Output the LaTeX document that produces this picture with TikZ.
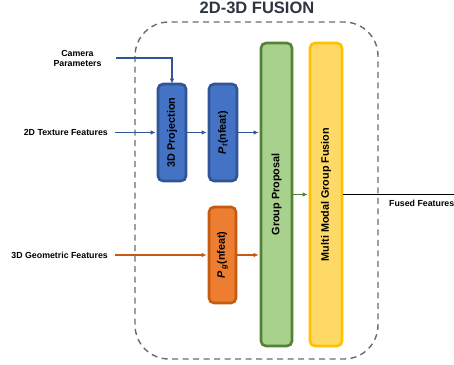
\documentclass[tikz,border=0pt]{standalone}
\usepackage{fontspec}
\setmainfont{Liberation Sans}
\usetikzlibrary{arrows.meta}
\definecolor{bfill}{HTML}{4472C4}
\definecolor{bline}{HTML}{2F5597}
\definecolor{gfill}{HTML}{A9D18E}
\definecolor{gline}{HTML}{538135}
\definecolor{yfill}{HTML}{FFD966}
\definecolor{yline}{HTML}{FFC000}
\definecolor{ofill}{HTML}{ED7D31}
\definecolor{oline}{HTML}{C55A11}
\definecolor{dashgray}{HTML}{6B6B6B}
\definecolor{titlecol}{HTML}{2E3440}
\tikzset{
  blockbox/.style={draw, line width=2.6pt, rounded corners=5pt, inner sep=0pt},
  blocklabel/.style={rotate=90, font=\fontsize{10.8}{12}\selectfont\bfseries, text=black, inner sep=0pt},
  sidelabel/.style={font=\fontsize{8.8}{10.6}\selectfont\bfseries, text=black, inner sep=0pt, align=center},
  flow/.style={line width=1.3pt, -{Latex[length=5pt,width=4.5pt]}},
  plainflow/.style={line width=1.5pt},
  fusionframe/.style={draw=dashgray, line width=1.4pt, dash pattern=on 6pt off 4.5pt, rounded corners=34pt}
}
\begin{document}
\begin{tikzpicture}[x=1pt,y=-1pt]
\useasboundingbox (0,0) rectangle (454,364);
% frame and title
\draw[fusionframe] (135,22) rectangle (378,359);
\node[font=\fontsize{16.5}{18}\selectfont\bfseries, text=titlecol, inner sep=0pt] (title) at (257,8) {2D-3D FUSION};
% blocks
\node[blockbox, fill=bfill, draw=bline, minimum width=28pt, minimum height=97pt] (proj) at (172,132.5) {};
\node[blocklabel] (projl) at (proj.center) {3D Projection};
\node[blockbox, fill=bfill, draw=bline, minimum width=28pt, minimum height=97pt] (pt) at (223,132.5) {};
\node[blocklabel] (ptl) at (pt.center) {{\itshape P}\textsubscript{\itshape t}(nfeat)};
\node[blockbox, fill=ofill, draw=oline, minimum width=27pt, minimum height=96pt] (pg) at (222.5,255) {};
\node[blocklabel] (pgl) at (pg.center) {{\itshape P}\,\textsubscript{\itshape g}(nfeat)};
\node[blockbox, fill=gfill, draw=gline, minimum width=31pt, minimum height=303pt] (gp) at (276.5,194.5) {};
\node[blocklabel] (gpl) at (gp.center) {Group Proposal};
\node[blockbox, fill=yfill, draw=yline, minimum width=32pt, minimum height=303pt] (mm) at (326,194.5) {};
\node[blocklabel] (mml) at (mm.center) {Multi Modal Group Fusion};
% side labels
\node[sidelabel] (caml) at (77.5,58.5) {Camera\\Parameters};
\node[sidelabel, anchor=east] (texl) at (108,132.5) {2D Texture Features};
\node[sidelabel, anchor=east] (geol) at (108,255) {3D Geometric Features};
\node[sidelabel, anchor=west] (fusl) at (389,203) {Fused Features};
\coordinate (cam) at (116,58);
\coordinate (tex) at (115,132.5);
\coordinate (geo) at (115,255);
\coordinate (out) at (454,194.5);
% connectors
\draw[flow, bline] (cam) -| ([yshift=-1pt]proj.north);
\draw[flow, bline] (tex) -- ([xshift=-1pt]proj.west);
\draw[flow, bline] (proj.east) -- ([xshift=-1pt]pt.west);
\draw[flow, bline] (pt.east) -- ([xshift=-1pt]pt.east -| gp.west);
\draw[flow, oline] (geo) -- ([xshift=-1pt]pg.west);
\draw[flow, oline] (pg.east) -- ([xshift=-1pt]pg.east -| gp.west);
\draw[flow, gline] (gp.east) -- ([xshift=-1pt]mm.west);
\draw[plainflow, black] (mm.east) -- (out);
\end{tikzpicture}
\end{document}
